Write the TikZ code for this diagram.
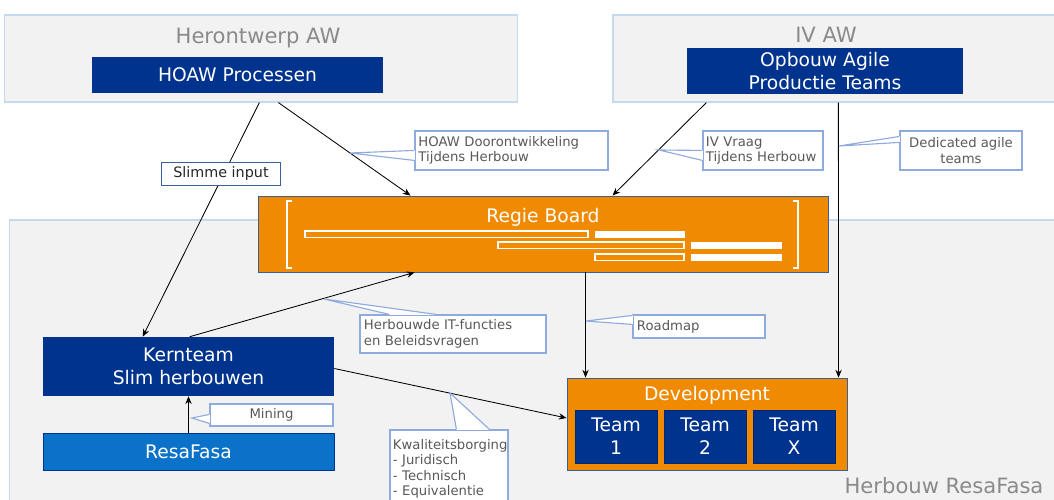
\documentclass[tikz,border=0pt]{standalone}
\usepackage{fontspec}
\setmainfont{DejaVu Sans}
\usetikzlibrary{calc,arrows.meta}
\definecolor{navy}{HTML}{00338D}
\definecolor{resablue}{HTML}{0A72C8}
\definecolor{board}{HTML}{F08A00}
\definecolor{edgeblue}{HTML}{3A5F9A}
\definecolor{areagray}{HTML}{F2F2F2}
\definecolor{arealine}{HTML}{C5DAEE}
\definecolor{noteline}{HTML}{8FAADC}
\definecolor{notetext}{HTML}{595959}
\definecolor{titlegray}{HTML}{8A8A8A}

\newcommand\notewedge[3]{%
  \fill[white] (#1) -- (#2) -- (#3) -- cycle;
  \draw[white, line width=1.2pt] (#2) -- (#3);
  \draw[pointer] (#2) -- (#1) -- (#3);}

\begin{document}
\begin{tikzpicture}[x=0.025cm, y=-0.025cm, >={Stealth[length=5.5pt,width=4.5pt]},
    area/.style={draw=arealine, fill=areagray, line width=0.8pt, inner sep=0pt},
    title/.style={text=titlegray, font=\fontsize{15}{18}\selectfont},
    navybox/.style={fill=navy, text=white, align=center, inner sep=0pt,
      font=\fontsize{13.3}{16.3}\selectfont},
    orangebox/.style={fill=board, draw=edgeblue, line width=0.6pt, inner sep=0pt},
    boardtext/.style={text=white, font=\fontsize{13.3}{16.3}\selectfont},
    note/.style={draw=noteline, fill=white, text=notetext, line width=0.8pt,
      inner sep=0pt, font=\fontsize{9.4}{11}\selectfont},
    pointer/.style={draw=noteline, line width=0.8pt},
    slim/.style={draw=edgeblue, fill=white, text=black!85, line width=0.7pt,
      inner sep=0pt, font=\fontsize{10.2}{12}\selectfont},
    link/.style={->, line width=0.6pt}]
    \useasboundingbox (0,0) rectangle (1054,500);

    \node[area, minimum width=12.8cm, minimum height=2.175cm] (herontwerp) at (261,58.5) {};
    \node[area, minimum width=11.2cm, minimum height=2.175cm] (ivaw) at (837,58.5) {};
    \node[area, minimum width=26.2cm, minimum height=7.125cm] (herbouw) at (534,362.5) {};
    \node[title] (herontwerptitle) at (258,38) {Herontwerp AW};
    \node[title] (ivtitle) at (826,35) {IV AW};
    \node[title] (herbouwtitle) at (944,486) {Herbouw ResaFasa};

    \node[navybox, minimum width=7.275cm, minimum height=0.9cm] (hoaw) at (237.5,75) {HOAW Processen};
    \node[navybox, minimum width=6.9cm, minimum height=1.15cm] (opbouw) at (825,71) {Opbouw Agile\\Productie Teams};

    \node[orangebox, minimum width=14.25cm, minimum height=1.9cm] (regie) at (543,234) {};
    \node[boardtext] (regietitle) at (543,217) {Regie Board};
    \draw[white, line width=1.4pt] (292,201) -- (287,201) -- (287,268) -- (292,268);
    \draw[white, line width=1.4pt] (793,201) -- (798,201) -- (798,268) -- (793,268);
    \draw[white, line width=1.3pt] (305,231) rectangle (588,237.5);
    \fill[white] (595,230.5) rectangle (685,238);
    \draw[white, line width=1.3pt] (498,242) rectangle (684,248.5);
    \fill[white] (691,241.5) rectangle (782,249);
    \draw[white, line width=1.3pt] (595,254) rectangle (684,260.5);
    \fill[white] (691,253.5) rectangle (782,261);

    \node[navybox, minimum width=7.275cm, minimum height=1.475cm] (kern) at (188.5,366.5) {Kernteam\\Slim herbouwen};
    \node[navybox, fill=resablue, draw=navy, line width=0.5pt, minimum width=7.275cm, minimum height=0.925cm] (resafasa) at (188.5,451.5) {ResaFasa};
    \node[orangebox, minimum width=7cm, minimum height=2.3cm] (dev) at (707,424) {};
    \node[boardtext] (devtitle) at (707,395) {Development};
    \foreach \t/\x/\lbl in {1/616/1, 2/705/2, x/794/X}
        \node[navybox, draw=navy!80!black, line width=0.4pt, minimum width=2.05cm, minimum height=1.325cm] (team\t) at (\x,436.5) {Team\\\lbl};

    \draw[link] ($(herontwerp.south west)+(255,0)$) -- ($(kern.north west)+(100,0)$);
    \draw[link] ($(herontwerp.south west)+(274,0)$) -- ($(regie.north west)+(153,0)$);
    \draw[link] ($(ivaw.south west)+(94,0)$) -- ($(regie.north west)+(355,0)$);
    \draw[link] ($(ivaw.south west)+(226,0)$) -- ($(dev.north west)+(272,0)$);
    \draw[link] ($(regie.south west)+(328,0)$) -- ($(dev.north west)+(19,0)$);
    \draw[link] ($(kern.north west)+(147,0)$) -- ($(regie.south west)+(157,0)$);
    \draw[link] ($(kern.east)+(0,2)$) -- ($(dev.west)+(0,-6)$);
    \draw[link] (resafasa) -- (kern);

    \node[slim, minimum width=2.95cm, minimum height=0.575cm] (slimme) at (221,173.5) {Slimme input};

    \node[note, minimum width=4.825cm, minimum height=0.975cm, text width=4.65cm, align=left] (hoawnote) at (511.5,150.5) {HOAW Doorontwikkeling\\Tijdens Herbouw};
    \node[note, minimum width=3.0cm, minimum height=0.975cm, text width=2.85cm, align=left] (ivnote) at (763,150.5) {IV Vraag\\Tijdens Herbouw};
    \node[note, minimum width=3.05cm, minimum height=0.975cm, align=center] (agilenote) at (961,150.5) {Dedicated agile\\teams};
    \node[note, minimum width=4.65cm, minimum height=0.95cm, text width=4.45cm, align=left] (itnote) at (453,334) {Herbouwde IT-functies\\en Beleidsvragen};
    \node[note, minimum width=3.3cm, minimum height=0.575cm, text width=3.1cm, align=left] (roadnote) at (699,326.5) {Roadmap};
    \node[note, minimum width=3.075cm, minimum height=0.55cm] (miningnote) at (271.5,415) {Mining};
    \node[note, minimum width=2.95cm, minimum height=1.95cm, text width=2.8cm, align=left] (qualnote) at (449,469) {Kwaliteitsborging\\- Juridisch\\- Technisch\\- Equivalentie};

    \coordinate (hoawtip) at (350,153);
    \coordinate (ivtip) at (659,150);
    \coordinate (agiletip) at (839,146);
    \coordinate (ittip) at (324,299);
    \coordinate (roadtip) at (586,321);
    \coordinate (miningtip) at (192,418);
    \coordinate (qualtip) at (450,393);
    \notewedge{hoawtip}{$(hoawnote.north west)+(0,20)$}{$(hoawnote.north west)+(0,30)$}
    \notewedge{ivtip}{$(ivnote.north west)+(0,20)$}{$(ivnote.north west)+(0,30)$}
    \notewedge{agiletip}{$(agilenote.north west)+(0,6)$}{$(agilenote.north west)+(0,12)$}
    \notewedge{ittip}{$(itnote.north west)+(30,0)$}{$(itnote.north west)+(77,0)$}
    \notewedge{roadtip}{$(roadnote.north west)+(0,1)$}{$(roadnote.north west)+(0,10)$}
    \notewedge{miningtip}{$(miningnote.north west)+(0,11)$}{$(miningnote.north west)+(0,20)$}
    \notewedge{qualtip}{$(qualnote.north west)+(67,0)$}{$(qualnote.north west)+(100,0)$}
\end{tikzpicture}
\end{document}
